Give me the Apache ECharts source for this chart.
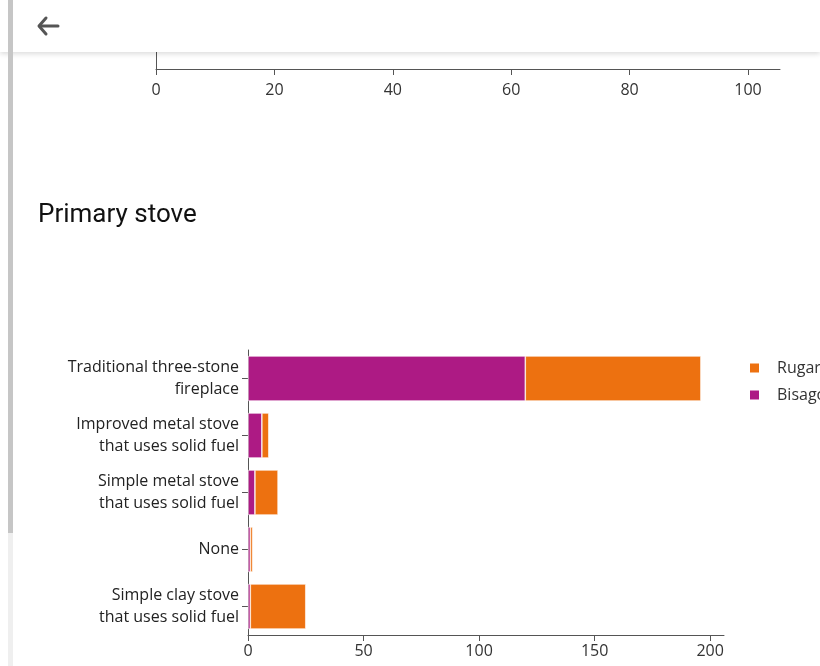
<!DOCTYPE html>
<html>
<head>
<meta charset="utf-8">
<style>
  html, body { margin: 0; padding: 0; background: #fff; }
  #chart { width: 820px; height: 666px; }
</style>
<script src="https://cdn.jsdelivr.net/npm/echarts@6/dist/echarts.min.js"></script>
</head>
<body>
<div id="chart"></div>
<script>
// ---- data ----
const categories = [
  'Traditional three-stone\nfireplace',
  'Improved metal stove\nthat uses solid fuel',
  'Simple metal stove\nthat uses solid fuel',
  'None',
  'Simple clay stove\nthat uses solid fuel'
];
const bisago = [120, 6, 3, 1, 1];
const rugari = [76, 3, 10, 1, 24];
const bottomTicks = [0, 50, 100, 150, 200];
const topTicks = [0, 20, 40, 60, 80, 100];

const axisFont = '"Open Sans", Lato, sans-serif';
const PURPLE = '#ad1a84';
const ORANGE = '#ed7110';

const chart = echarts.init(document.getElementById('chart'), null, { renderer: 'canvas' });

chart.setOption({
  animation: false,
  title: {
    text: 'Primary stove',
    left: 33,
    top: 197,
    textStyle: { fontFamily: 'Roboto, sans-serif', fontSize: 26, fontWeight: 'normal', color: '#111' }
  },
  legend: {
    data: ['Rugari', 'Bisago'],
    orient: 'vertical',
    left: 743,
    top: 355,
    itemWidth: 11,
    itemHeight: 11,
    itemGap: 11,
    icon: 'rect',
    textStyle: { fontFamily: axisFont, fontSize: 16, color: '#333', padding: [0, 0, 0, 12] }
  },
  grid: [
    { left: 156, width: 624, top: 0, height: 69 },
    { left: 248, width: 476, top: 350, height: 285 }
  ],
  xAxis: [
    {
      type: 'value', gridIndex: 0, min: 0, max: 105.4,
      splitLine: { show: false },
      axisLine: { show: true, lineStyle: { color: '#555', width: 1 } },
      axisTick: { show: true, length: 6, lineStyle: { color: '#555' }, customValues: topTicks },
      axisLabel: { customValues: topTicks, fontFamily: axisFont, fontSize: 16, color: '#333', margin: 13 }
    },
    {
      type: 'value', gridIndex: 1, min: 0, max: 206,
      splitLine: { show: false },
      axisLine: { show: true, lineStyle: { color: '#555', width: 1 } },
      axisTick: { show: true, length: 6, lineStyle: { color: '#555' }, customValues: bottomTicks },
      axisLabel: { customValues: bottomTicks, fontFamily: axisFont, fontSize: 16, color: '#333', margin: 8 }
    }
  ],
  yAxis: [
    {
      type: 'category', gridIndex: 0, data: [''],
      axisLine: { show: true, lineStyle: { color: '#555', width: 1 } },
      axisTick: { show: false },
      axisLabel: { show: false }
    },
    {
      type: 'category', gridIndex: 1, data: categories, inverse: true,
      axisLine: { show: true, lineStyle: { color: '#555', width: 1 } },
      axisTick: { show: true, alignWithLabel: true, length: 6, lineStyle: { color: '#555' } },
      axisLabel: { fontFamily: axisFont, fontSize: 16, color: '#222', lineHeight: 22, margin: 9 }
    }
  ],
  series: [
    {
      name: 'Bisago', type: 'bar', stack: 'total', xAxisIndex: 1, yAxisIndex: 1,
      data: bisago, barCategoryGap: '21%',
      itemStyle: { color: PURPLE, borderColor: '#fff', borderWidth: 0.6 }
    },
    {
      name: 'Rugari', type: 'bar', stack: 'total', xAxisIndex: 1, yAxisIndex: 1,
      data: rugari, barCategoryGap: '21%',
      itemStyle: { color: ORANGE, borderColor: '#fff', borderWidth: 0.6 }
    }
  ],
  graphic: [
    {
      type: 'rect', z: 100,
      shape: { x: 0, y: 0, width: 820, height: 52 },
      style: { fill: '#fff', shadowColor: 'rgba(0,0,0,0.14)', shadowBlur: 5, shadowOffsetY: 2 }
    },
    {
      type: 'polyline', z: 101,
      shape: { points: [[46, 18], [39, 26], [46, 34]] },
      style: { stroke: '#555', lineWidth: 3, fill: null, lineCap: 'round', lineJoin: 'round' }
    },
    {
      type: 'line', z: 101,
      shape: { x1: 40, y1: 26, x2: 58, y2: 26 },
      style: { stroke: '#555', lineWidth: 3, lineCap: 'round' }
    },
    {
      type: 'rect', z: 102,
      shape: { x: 8, y: 0, width: 5, height: 533 },
      style: { fill: '#c6c6c6' }
    },
    {
      type: 'rect', z: 102,
      shape: { x: 8, y: 533, width: 5, height: 133 },
      style: { fill: '#efefef' }
    }
  ]
});
</script>
</body>
</html>
